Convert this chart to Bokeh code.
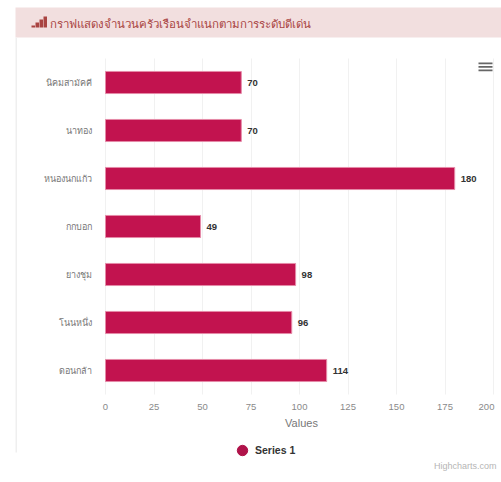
from bokeh.plotting import figure
from bokeh.models import BoxAnnotation, Label, FixedTicker, Legend, LegendItem, ColumnDataSource, Range1d
from bokeh.embed import file_html
from bokeh.resources import INLINE

categories = ["นิคมสามัคคี", "นาทอง", "หนองนกแก้ว", "กกบอก", "ยางชุม", "โนนหนึ่ง", "ดอนกล้า"]
values = [70, 70, 180, 49, 98, 96, 114]
ticks = [0, 25, 50, 75, 100, 125, 150, 175, 200]
title_text = "กราฟแสดงจำนวนครัวเรือนจำแนกตามการระดับดีเด่น"
series_name = "Series 1"
credit = "Highcharts.com"
axis_title = "Values"

W, H = 501, 482
PLOT_LEFT, PLOT_RIGHT, PLOT_TOP, PLOT_BOTTOM = 105, 493, 58, 394
PX_PER_VALUE = (PLOT_RIGHT - PLOT_LEFT) / 200
PX_PER_ROW = (PLOT_BOTTOM - PLOT_TOP) / len(categories)

rows = list(range(len(categories)))

# The frame fills the canvas, so the page furniture around the plot area is not clipped.
p = figure(width=W, height=H, output_backend="svg", toolbar_location=None,
           x_range=Range1d(-PLOT_LEFT / PX_PER_VALUE, (W - PLOT_LEFT) / PX_PER_VALUE),
           y_range=Range1d((H - PLOT_TOP) / PX_PER_ROW - 0.5, -PLOT_TOP / PX_PER_ROW - 0.5),
           min_border=0)
p.outline_line_color = None
p.background_fill_color = "#ffffff"
p.ygrid.grid_line_color = None
p.xgrid.grid_line_color = "#f1f1f1"
p.xgrid.ticker = FixedTicker(ticks=ticks)
p.xgrid.cross_bounds = (-0.5, len(categories) - 0.5)

src = ColumnDataSource(dict(row=rows, val=values, lab=[str(v) for v in values]))
p.hbar(y="row", right="val", left=0, height=0.46, source=src,
       fill_color="#c2134f", line_color="#e58aa8", line_width=1)
p.text(x="val", y="row", text="lab", source=src, x_offset=6, text_baseline="middle",
       text_font_size="9.5px", text_font_style="bold", text_color="#333333")

ax = p.xaxis[0]
ax.fixed_location = len(categories) - 0.5
ax.ticker = FixedTicker(ticks=ticks)
ax.major_label_overrides = {200: ""}
ax.axis_line_color = None
ax.major_tick_line_color = None
ax.minor_tick_line_color = None
ax.major_label_text_color = "#8a8a8a"
ax.major_label_text_font_size = "9.5px"
ax.major_label_standoff = 3

ay = p.yaxis[0]
ay.fixed_location = 0
ay.ticker = FixedTicker(ticks=rows)
ay.major_label_overrides = dict(zip(rows, categories))
ay.axis_line_color = None
ay.major_tick_line_color = None
ay.minor_tick_line_color = None
ay.major_label_text_color = "#777777"
ay.major_label_text_font_size = "9px"
ay.major_label_standoff = 8

# page furniture, in canvas pixels
def box(l, r, t, b, color):
    p.add_layout(BoxAnnotation(left=l, right=r, top=t, bottom=b,
                               left_units="canvas", right_units="canvas",
                               top_units="canvas", bottom_units="canvas",
                               fill_color=color, fill_alpha=1.0, line_color=None, level="underlay"))

def label(x, y, text, **kw):
    p.add_layout(Label(x=x, y=H - y, x_units="screen", y_units="screen",
                       text=text, text_baseline="middle", **kw))

box(15, 501, 7, 37, "#f2dfdf")          # header band
box(15, 16.5, 37, 452, "#efefef")       # card edge
for l, t in ((31, 25), (35, 22), (39, 19), (43, 16)):
    box(l, l + 3.5, t, 27, "#a94442")   # header icon
for t in (62, 65.5, 69):
    box(478, 492, t, t + 1.8, "#666666")  # menu

label(49, 23, title_text, text_font_size="11.5px", text_color="#a94442")
label(486, 406, "200", text_align="center", text_font_size="9.5px", text_color="#8a8a8a")
label(301, 422, axis_title, text_align="center", text_font_size="11px", text_color="#777777")
label(496, 465, credit, text_align="right", text_font_size="9px", text_color="#b5b5b5")

dummy = p.scatter(x=[float("nan")], y=[0], size=9, marker="circle",
                  fill_color="#b0134a", line_color="#b0134a")
legend = Legend(items=[LegendItem(label=series_name, renderers=[dummy])],
                location=(229, H - 463), border_line_color=None, background_fill_alpha=0,
                label_text_font_size="10.5px", label_text_color="#333333", label_text_font_style="bold",
                glyph_width=26, glyph_height=26, padding=0, margin=0, label_standoff=0)
p.add_layout(legend, "center")

open("out.html", "w").write(file_html(p, INLINE))
